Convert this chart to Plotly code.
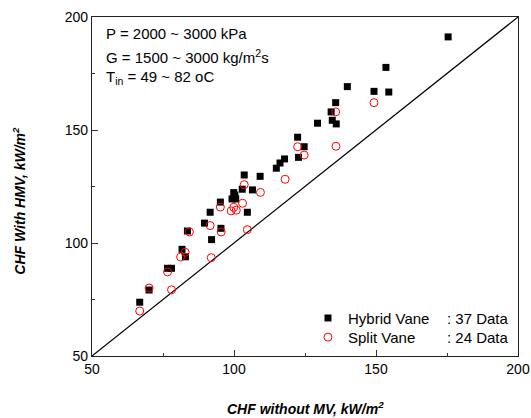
import plotly.graph_objects as go

# Hybrid Vane data (CHF without MV, CHF with HMV), kW/m^2
hybrid_x = [175.4, 153.5, 139.9, 149.3, 154.5, 135.8, 134.2, 134.6, 136.0, 129.4,
            122.4, 124.7, 122.7, 117.8, 116.2, 114.9, 103.6, 109.2, 102.9, 106.5,
            99.9, 99.3, 100.6, 95.2, 104.7, 91.6, 89.6, 95.4, 92.1, 83.6,
            81.7, 82.9, 76.6, 78.0, 70.1, 66.8, 100.3]
hybrid_y = [191.2, 177.7, 169.2, 167.1, 166.8, 162.1, 158.0, 154.3, 152.7, 153.0,
            146.8, 142.6, 137.9, 137.2, 135.4, 133.1, 130.1, 129.5, 123.8, 123.5,
            122.3, 119.5, 119.5, 118.1, 113.6, 113.6, 108.8, 106.5, 101.5, 105.3,
            97.2, 93.9, 88.8, 88.8, 79.2, 73.8, 121.2]

# Split Vane data
split_x = [149.3, 135.8, 122.4, 124.7, 135.9, 118.0, 103.6, 109.3, 103.0, 95.2,
           99.9, 99.0, 100.8, 91.6, 95.5, 84.3, 104.7, 92.0, 82.8, 81.2,
           76.6, 78.0, 70.1, 66.8]
split_y = [162.1, 158.0, 142.6, 138.9, 142.8, 128.2, 125.8, 122.4, 117.6, 115.9,
           115.8, 114.2, 114.5, 107.7, 104.9, 104.9, 105.9, 93.5, 95.9, 93.8,
           87.2, 79.3, 80.1, 69.9]

diag = [50, 200]
tick_vals = [50, 100, 150, 200]
tick_text = ["50", "100", "150", "200"]

FONT = "Liberation Sans, Arial, sans-serif"

fig = go.Figure()
fig.add_trace(go.Scatter(x=diag, y=diag, mode="lines",
                         line=dict(color="black", width=1.2),
                         showlegend=False, hoverinfo="skip"))
fig.add_trace(go.Scatter(x=hybrid_x, y=hybrid_y, mode="markers", name="Hybrid Vane",
                         legend="legend",
                         marker=dict(symbol="square", size=7, color="black",
                                     line=dict(width=0))))
fig.add_trace(go.Scatter(x=split_x, y=split_y, mode="markers", name="Split Vane",
                         legend="legend2",
                         marker=dict(symbol="circle-open", size=8, color="red",
                                     line=dict(width=1, color="red"))))

axis_common = dict(
    range=[50, 200], tickvals=tick_vals, ticktext=tick_text, automargin=False,
    ticks="inside", ticklen=6, tickwidth=1, tickcolor="#333",
    showline=True, linecolor="#222", linewidth=1.3, mirror=True,
    showgrid=False, zeroline=False,
    tickfont=dict(family=FONT, size=14, color="black"),
    minor=dict(tickvals=[75, 125, 175], ticks="inside", ticklen=3,
               tickcolor="#333", tickwidth=1),
)
fig.update_xaxes(**axis_common)
fig.update_yaxes(**axis_common)

legend_common = dict(xanchor="left", yanchor="middle", bgcolor="rgba(0,0,0,0)",
                     font=dict(family=FONT, size=15), borderwidth=0)

fig.update_layout(
    width=531, height=418, autosize=False,
    margin=dict(l=91.5, r=13, t=17, b=62),
    paper_bgcolor="white", plot_bgcolor="white",
    font=dict(family=FONT, size=15, color="black"),
    legend=dict(x=0.507, y=0.111, **legend_common),
    legend2=dict(x=0.507, y=0.055, **legend_common),
    annotations=[
        dict(text="P = 2000 ~ 3000 kPa", xref="paper", yref="paper",
             x=0.027, y=0.951, xanchor="left", yanchor="middle", showarrow=False,
             font=dict(size=15)),
        dict(text="G = 1500 ~ 3000 kg/m<sup>2</sup>s", xref="paper", yref="paper",
             x=0.027, y=0.883, xanchor="left", yanchor="middle", showarrow=False,
             font=dict(size=15)),
        dict(text="T<sub>in</sub> = 49 ~ 82 oC", xref="paper", yref="paper",
             x=0.027, y=0.823, xanchor="left", yanchor="middle", showarrow=False,
             font=dict(size=15)),
        dict(text=": 37 Data", xref="paper", yref="paper",
             x=0.829, y=0.111, xanchor="left", yanchor="middle", showarrow=False,
             font=dict(size=15)),
        dict(text=": 24 Data", xref="paper", yref="paper",
             x=0.829, y=0.055, xanchor="left", yanchor="middle", showarrow=False,
             font=dict(size=15)),
        dict(text="<b><i>CHF without MV, kW/m<sup>2</sup></i></b>", xref="paper", yref="paper",
             x=0.5006, y=-0.153, xanchor="center", yanchor="middle", showarrow=False,
             font=dict(size=14)),
        dict(text="<b><i>CHF With HMV, kW/m<sup>2</sup></i></b>", xref="paper", yref="paper",
             x=-0.170, y=0.457, xanchor="center", yanchor="middle", showarrow=False,
             textangle=-90, font=dict(size=14)),
    ],
)

fig.write_html("out.html",
               config={"displayModeBar": False, "responsive": False},
               post_script="document.body.style.margin='0';document.body.style.overflow='hidden';")
